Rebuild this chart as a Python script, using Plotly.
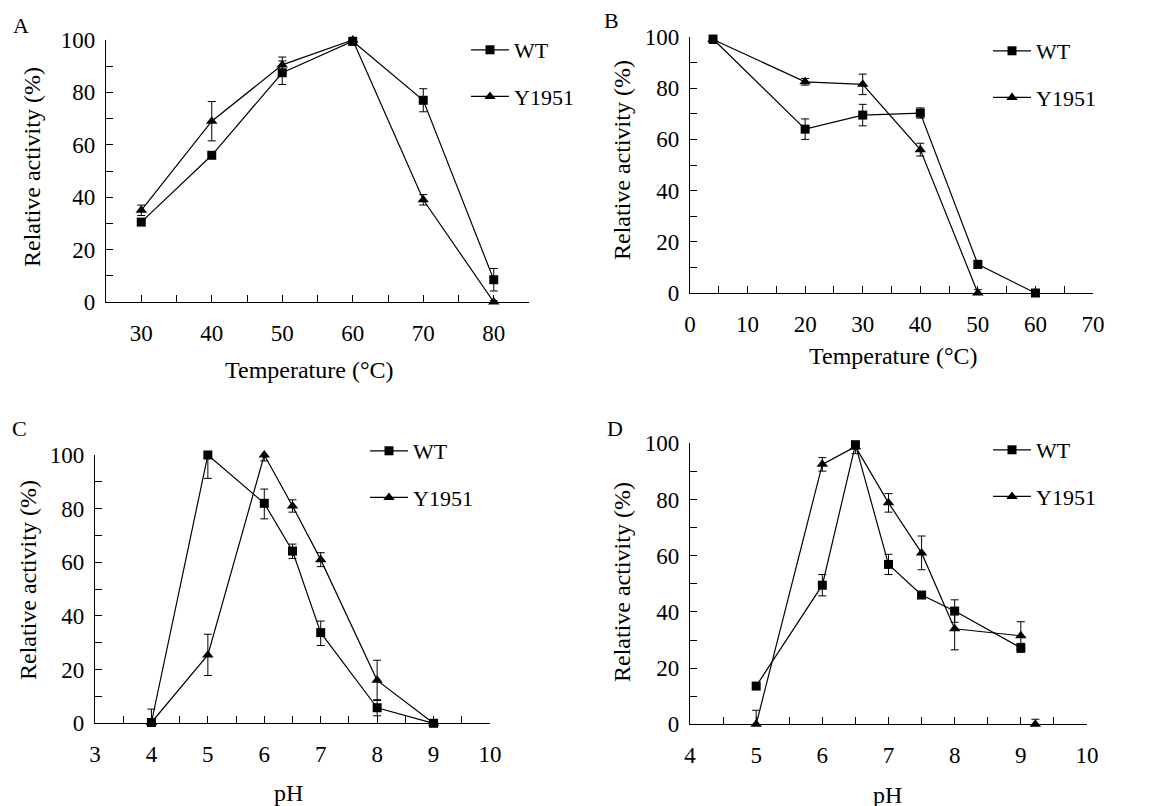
import plotly.graph_objects as go

W, H = 1151, 806
PAGE_OFFSET = 8  # default body margin of the page

# ---------------- data ----------------
# Panel A: optimal temperature
a_temp = [30, 40, 50, 60, 70, 80]
a_wt = [30.5, 56, 87.5, 99.5, 77, 8.5]
a_wt_err = [1, 1, 4.5, 1.5, 4.4, 4.3]
a_mut = [35, 69, 90.5, 100, 39, 0]
a_mut_err = [2, 7.5, 3, 1, 2, 0.5]

# Panel B: thermal stability
b_temp = [4, 20, 30, 40, 50, 60]
b_wt = [99.2, 64, 69.5, 70.3, 11.2, 0]
b_wt_err = [1.5, 4, 4.2, 2, 1.5, 0.3]
b_mut = [99, 82.5, 81.5, 56, 0]
b_mut_err = [1.5, 1.3, 4, 2.5, 1.3]

# Panel C: optimal pH
c_ph = [4, 5, 6, 6.5, 7, 8, 9]
c_wt = [0.3, 100, 82, 64.2, 33.8, 5.8, 0]
c_wt_err_plus = [0.5, 0.6, 5.3, 2.6, 4.3, 3, 0.3]
c_wt_err_minus = [0.5, 8.7, 5.8, 2.8, 4.8, 3, 0.3]
c_mut = [0.3, 25.5, 100, 81, 61, 16, 0]
c_mut_err = [5, 7.7, 2.2, 2.3, 2.6, 7.5, 1.3]

# Panel D: pH stability
d_ph_wt = [5, 6, 6.5, 7, 7.5, 8, 9]
d_wt = [13.6, 49.5, 99.5, 56.9, 46, 40.3, 27.2]
d_wt_err = [0.5, 3.8, 1.5, 3.6, 0.5, 4, 1.6]
d_ph_mut = [5, 6, 6.5, 7, 7.5, 8, 9]
d_mut = [0, 92.5, 98.8, 78.8, 61, 34, 31.5]
d_mut_err = [5, 2.4, 2.5, 3.3, 6, 7.5, 5]
d_ph_extra = [9.22]
d_extra = [0]
d_extra_err = [1.8]

series_names = ["WT", "Y1951"]
panel_letters = ["A", "B", "C", "D"]
x_titles = ["Temperature (°C)", "Temperature (°C)", "pH", "pH"]
y_title = "Relative activity (%)"

FONT = "Liberation Serif"

# ---------------- geometry (pixels) ----------------
# (x_left, x_right, y_top, y_bottom)
boxes = [
    (106, 529, 40, 302),
    (690, 1093, 37, 293),
    (95, 490, 455, 723.3),
    (690, 1087, 443.3, 724.3),
]
x_ranges = [[25, 85], [0, 70], [3, 10], [4, 10]]
x_dticks = [10, 10, 1, 1]
x_minor = [5, 5, 0.5, 0.5]


def px_x(p):
    return (p - PAGE_OFFSET) / W


def px_y(p):
    return 1 - (p - PAGE_OFFSET) / H


fig = go.Figure()

def add_series(idx, x, y, err_plus, err_minus, symbol, name, legend, show=True):
    suffix = "" if idx == 0 else str(idx + 1)
    fig.add_trace(go.Scatter(
        x=x, y=y, name=name, mode="lines+markers" if show else "markers",
        xaxis="x" + suffix, yaxis="y" + suffix,
        line=dict(color="black", width=1.2),
        marker=dict(symbol=symbol, size=9 if symbol == "square" else 10, color="black"),
        error_y=dict(type="data", array=err_plus, arrayminus=err_minus, symmetric=False,
                     color="black", thickness=1, width=4),
        cliponaxis=False,
        showlegend=show, legend=legend, legendgroup=name + str(idx),
    ))

add_series(0, a_temp, a_wt, a_wt_err, a_wt_err, "square", series_names[0], "legend")
add_series(0, a_temp, a_mut, a_mut_err, a_mut_err, "triangle-up", series_names[1], "legend")
add_series(1, b_temp, b_wt, b_wt_err, b_wt_err, "square", series_names[0], "legend2")
add_series(1, b_temp[:5], b_mut, b_mut_err, b_mut_err, "triangle-up", series_names[1], "legend2")
add_series(2, c_ph, c_wt, c_wt_err_plus, c_wt_err_minus, "square", series_names[0], "legend3")
add_series(2, c_ph, c_mut, c_mut_err, c_mut_err, "triangle-up", series_names[1], "legend3")
add_series(3, d_ph_wt, d_wt, d_wt_err, d_wt_err, "square", series_names[0], "legend4")
add_series(3, d_ph_mut, d_mut, d_mut_err, d_mut_err, "triangle-up", series_names[1], "legend4")
add_series(3, d_ph_extra, d_extra, d_extra_err, d_extra_err, "triangle-up", series_names[1], "legend4", show=False)

layout = dict(
    width=W, height=H,
    margin=dict(l=0, r=0, t=0, b=0, pad=0, autoexpand=False),
    paper_bgcolor="white", plot_bgcolor="white",
    font=dict(family=FONT, size=22, color="black"),
    showlegend=True,
)

for i, (xl, xr, yt, yb) in enumerate(boxes):
    suffix = "" if i == 0 else str(i + 1)
    layout["xaxis" + suffix] = dict(
        domain=[px_x(xl), px_x(xr)], range=x_ranges[i], anchor="y" + suffix,
        dtick=x_dticks[i], tick0=0, ticks="inside", ticklen=7, tickwidth=1, tickcolor="black",
        minor=dict(dtick=x_minor[i], ticks="inside", ticklen=7, tickwidth=1, tickcolor="black"),
        showline=True, linecolor="black", linewidth=1.2, showgrid=False, zeroline=False,
        tickfont=dict(family=FONT, size=23), ticklabelstandoff=10, fixedrange=True,
        automargin=False,
    )
    layout["yaxis" + suffix] = dict(
        domain=[px_y(yb), px_y(yt)], range=[0, 100], anchor="x" + suffix,
        dtick=20, ticks="inside", ticklen=7, tickwidth=1, tickcolor="black",
        minor=dict(dtick=10, ticks="inside", ticklen=7, tickwidth=1, tickcolor="black"),
        showline=True, linecolor="black", linewidth=1.2, showgrid=False, zeroline=False,
        tickfont=dict(family=FONT, size=23), ticklabelstandoff=5, fixedrange=True,
        automargin=False,
    )

legend_pos = [(466, 29), (988, 30), (365, 430), (988, 429)]
for i, (lx, ly) in enumerate(legend_pos):
    key = "legend" if i == 0 else "legend" + str(i + 1)
    layout[key] = dict(
        x=px_x(lx), y=px_y(ly), xanchor="left", yanchor="top",
        bgcolor="rgba(0,0,0,0)", borderwidth=0,
        font=dict(family=FONT, size=22, color="black"),
        traceorder="grouped", tracegroupgap=15, itemwidth=38,
    )

annotations = []
letter_pos = [(21, 25), (611, 20), (19, 428), (615, 428)]
for i, (lx, ly) in enumerate(letter_pos):
    annotations.append(dict(text=panel_letters[i], x=px_x(lx), y=px_y(ly), xref="paper", yref="paper",
                            showarrow=False, xanchor="center", yanchor="middle",
                            font=dict(family=FONT, size=22)))
xt_pos = [(309, 370), (893, 356), (288, 793), (887, 795)]
for i, (tx, ty) in enumerate(xt_pos):
    annotations.append(dict(text=x_titles[i], x=px_x(tx), y=px_y(ty), xref="paper", yref="paper",
                            showarrow=False, xanchor="center", yanchor="middle",
                            font=dict(family=FONT, size=24)))
yt_pos = [(32, 167), (622, 160), (28, 580), (622, 582)]
for i, (tx, ty) in enumerate(yt_pos):
    annotations.append(dict(text=y_title, x=px_x(tx), y=px_y(ty), xref="paper", yref="paper",
                            showarrow=False, xanchor="center", yanchor="middle", textangle=-90,
                            font=dict(family=FONT, size=24)))
layout["annotations"] = annotations

fig.update_layout(**layout)
fig.write_html("out.html")
